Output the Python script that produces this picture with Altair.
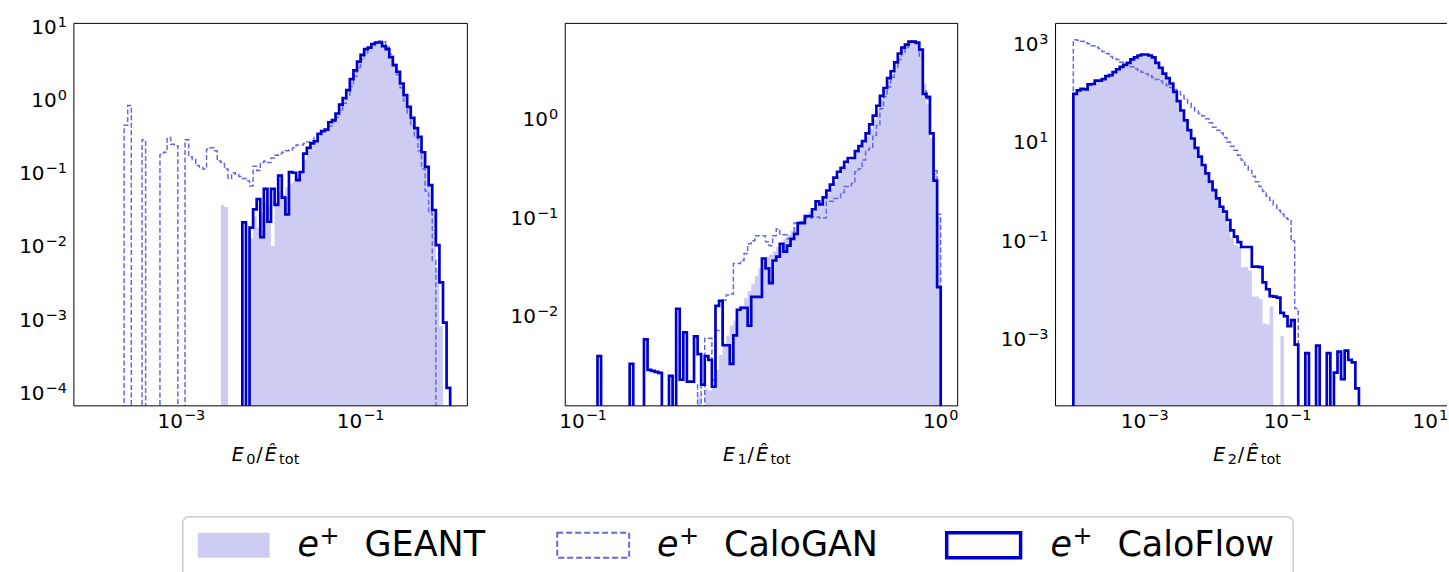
import altair as alt
import pandas as pd

N = None  # empty bin

# ---------------- data: log10 of normalised counts per bin ----------------
# Panel 1: E0/Etot, 100 log bins from 1e-4 to 1e0
p1_lo, p1_w = -4.0, 0.04
p1_geant = [N] * 30 + [
    N, N, N, N, N, N, -1.44, -1.47, N, N,
    N, N, N, N, -1.90, -1.60, -1.75, -1.55, -1.40, -1.45,
    -2.00, -1.40, -1.25, -1.30, -1.20, -1.15, -1.12, -1.05, -1.00, -0.82,
    -0.70, -0.63, -0.58, -0.50, -0.45, -0.41, -0.33, -0.29, -0.20, -0.09,
    0.00, 0.11, 0.25, 0.38, 0.50, 0.60, 0.68, 0.71, 0.76, 0.78,
    0.78, 0.74, 0.69, 0.59, 0.48, 0.38, 0.23, 0.07, -0.09, -0.24,
    -0.38, -0.50, -0.70, -0.90, -1.15, -1.55, -2.30, -3.10, N, N]
p1_calogan = [
    N, N, N, N, N, N, N, N, N, -0.35,
    -0.08, N, N, N, -0.55, N, N, N, N, -0.75,
    -0.72, -0.52, -0.61, -0.63, N, N, -0.55, -0.78, -0.82, -0.90,
    -0.93, -0.95, -0.68, -0.66, -0.70, -0.84, -0.86, -0.95, -1.08, -1.00,
    -1.02, -1.05, -1.08, -1.11, -1.18, -0.91, -0.97, -0.86, -0.84, -0.86,
    -0.80, -0.76, -0.74, -0.72, -0.70, -0.69, -0.66, -0.62, -0.62, -0.60,
    -0.58, -0.56, -0.52, -0.48, -0.44, -0.41, -0.36, -0.30, -0.24, -0.14,
    -0.05, 0.06, 0.18, 0.32, 0.44, 0.55, 0.64, 0.70, 0.74, 0.78,
    0.80, 0.79, 0.72, 0.62, 0.48, 0.34, 0.16, -0.02, -0.20, -0.36,
    -0.52, -0.70, -0.95, -1.25, -1.55, -2.20, N, N, N, N]
p1_caloflow = [N] * 40 + [
    N, N, -1.68, N, -1.75, -1.50, -1.36, -1.88, -1.22, -1.67,
    -1.22, -1.44, -1.04, -1.34, -1.57, -0.99, -1.00, -1.10, -0.99, -0.74,
    -0.66, -0.60, -0.57, -0.47, -0.43, -0.41, -0.31, -0.28, -0.19, -0.07,
    0.02, 0.13, 0.28, 0.40, 0.52, 0.61, 0.69, 0.71, 0.76, 0.78,
    0.78, 0.73, 0.69, 0.58, 0.47, 0.38, 0.22, 0.06, -0.10, -0.25,
    -0.39, -0.51, -0.72, -0.92, -1.17, -1.51, -1.99, -2.50, -3.05, -3.94]

# Panel 2: E1/Etot, 100 log bins from 1e-1 to 1e0
p2_lo, p2_w = -1.0, 0.01
p2_geant = [N] * 30 + [
    N, N, -2.82, N, -2.74, -2.76, -2.72, -2.55, -2.40, -2.28,
    -2.20, -2.10, -2.05, -1.95, -1.90, -1.82, -1.75, -1.68, -1.60, -1.52,
    -1.45, -1.40, -1.38, -1.35, -1.30, -1.27, -1.22, -1.18, -1.14, -1.10,
    -1.06, -1.02, -0.98, -0.95, -0.92, -0.88, -0.85, -0.80, -0.75, -0.70,
    -0.64, -0.58, -0.52, -0.47, -0.43, -0.40, -0.35, -0.30, -0.25, -0.18,
    -0.10, -0.01, 0.09, 0.19, 0.29, 0.38, 0.46, 0.55, 0.63, 0.70,
    0.74, 0.77, 0.78, 0.76, 0.70, 0.35, 0.15, -0.20, -0.55, -1.00]
p2_calogan = [N] * 30 + [
    N, N, -2.70, N, -2.23, -2.23, -2.65, -2.15, -2.15, -1.84,
    -1.79, -1.78, -1.47, -1.47, -1.44, -1.37, -1.27, -1.24, -1.19, -1.19,
    -1.19, -1.25, -1.29, -1.19, -1.12, -1.18, -1.18, -1.22, -1.22, -1.06,
    -1.05, -1.05, -1.01, -1.01, -1.00, -1.00, -1.01, -1.01, -0.84, -0.84,
    -0.81, -0.81, -0.75, -0.69, -0.69, -0.66, -0.54, -0.51, -0.42, -0.32,
    -0.30, -0.17, -0.07, 0.10, 0.22, 0.32, 0.42, 0.52, 0.60, 0.67,
    0.72, 0.78, 0.79, 0.76, 0.62, 0.28, 0.20, -0.15, -0.53, -0.97]
p2_caloflow = [
    N, N, N, N, -2.41, N, N, N, N, N,
    N, N, N, -2.49, N, N, N, -2.24, -2.55, -2.56,
    -2.57, -2.58, N, N, -2.61, N, -1.93, -2.65, -2.17, -2.67,
    -2.67, -2.21, -2.39, -2.70, -2.41, -2.45, -2.72, -1.90, -1.85, -2.30,
    -2.30, -2.49, -2.20, -1.94, -1.92, -1.92, -2.10, -1.81, -1.81, -1.81,
    -1.42, -1.52, -1.67, -1.44, -1.40, -1.27, -1.35, -1.29, -1.22, -1.17,
    -1.06, -1.06, -0.99, -0.99, -0.92, -0.84, -0.87, -0.80, -0.73, -0.67,
    -0.60, -0.54, -0.50, -0.44, -0.40, -0.40, -0.33, -0.28, -0.23, -0.15,
    -0.06, 0.03, 0.13, 0.23, 0.31, 0.41, 0.48, 0.57, 0.66, 0.72,
    0.75, 0.78, 0.78, 0.77, 0.70, 0.25, 0.22, -0.15, -0.63, -1.71]

# Panel 3: E2/Etot, 80 log bins from 1e-4 to 1e0
p3_lo, p3_w = -4.0, 0.05
p3_geant = [
    1.97, 2.04, 2.07, 2.07, 2.16, 2.18, 2.24, 2.25, 2.28, 2.33,
    2.36, 2.42, 2.47, 2.52, 2.57, 2.61, 2.67, 2.72, 2.76, 2.78,
    2.78, 2.76, 2.72, 2.62, 2.51, 2.40, 2.30, 2.19, 2.02, 1.83,
    1.63, 1.44, 1.24, 1.06, 0.87, 0.69, 0.52, 0.35, 0.18, 0.00,
    -0.18, -0.35, -0.48, -0.65, -0.95, -1.10, -1.14, -1.55, -1.55, -1.62,
    -2.15, -2.15, -2.20, -2.70, -2.72, -2.35, N, N, -2.96, N] + [N] * 20
p3_calogan = [
    3.08, 3.07, 3.05, 3.02, 3.00, 2.96, 2.93, 2.90, 2.84, 2.80,
    2.74, 2.70, 2.68, 2.62, 2.59, 2.56, 2.53, 2.49, 2.46, 2.42,
    2.39, 2.35, 2.31, 2.27, 2.24, 2.19, 2.15, 2.11, 2.07, 2.02,
    1.96, 1.88, 1.79, 1.70, 1.63, 1.58, 1.53, 1.47, 1.39, 1.30,
    1.24, 1.18, 1.09, 1.00, 0.91, 0.83, 0.73, 0.63, 0.53, 0.42,
    0.30, 0.19, 0.09, -0.01, -0.10, -0.19, -0.29, -0.39, -0.47, -0.55,
    -0.58, -1.02, -2.39, N, N, N, N, N, N, N] + [N] * 10
p3_caloflow = [
    1.98, 2.05, 2.08, 2.07, 2.17, 2.18, 2.25, 2.25, 2.28, 2.34,
    2.36, 2.42, 2.48, 2.53, 2.57, 2.61, 2.68, 2.72, 2.76, 2.78,
    2.78, 2.76, 2.72, 2.61, 2.51, 2.39, 2.30, 2.19, 2.02, 1.83,
    1.64, 1.44, 1.24, 1.07, 0.88, 0.70, 0.53, 0.36, 0.19, 0.02,
    -0.15, -0.32, -0.42, -0.59, -0.80, -0.93, -1.04, -1.14, -1.14, -1.14,
    -1.54, -1.54, -1.55, -1.86, -2.00, -2.14, -2.15, -2.17, -2.48, -2.55,
    -2.75, -2.63, -3.13, N, N, -3.30, N, N, -3.15, N,
    N, -3.30, N, -3.70, -3.27, -3.83, -3.25, -3.44, -3.49, -4.02]

# axis title pieces: E_i / Ê_tot
title_E, title_idx, title_slash, title_Ehat, title_sub = "E", ["0", "1", "2"], "/", "Ê", "tot"
legend_names = ["GEANT", "CaloGAN", "CaloFlow"]
legend_particle = "e"
legend_charge = "+"

# ---------------- styling ----------------
C_GEANT = "#cdcdf4"
C_GAN = "#6767e0"
C_FLOW = "#0000cd"
TINY = 1e-12
PANEL_H = 383
FS10, FSEX = 20, 14.5
FONT = "DejaVu Sans"


def edges(lo, w, n):
    return [10 ** (lo + w * k) for k in range(n + 1)]


def step_df(lo, w, vals):
    e = edges(lo, w, len(vals))
    ys = [TINY if v is None else 10 ** v for v in vals]
    xs = [e[0]] + e[:-1] + [e[-1], e[-1]]
    yy = [TINY] + ys + [ys[-1], TINY]
    return pd.DataFrame({"x": xs, "y": yy, "i": list(range(len(xs)))})


def area_df(lo, w, vals):
    e = edges(lo, w, len(vals))
    ys = [TINY if v is None else 10 ** v for v in vals]
    xs = e[:-1] + [e[-1]]
    yy = ys + [ys[-1]]
    return pd.DataFrame({"x": xs, "y": yy, "base": [TINY] * len(xs)})


def exp_str(e):
    return str(e).replace("-", "\u2212")


def text_w(s, fs):
    return sum((0.838 if c == "\u2212" else 0.636) for c in s) * fs


def log_axis(major, minor):
    vals = sorted([10.0 ** e for e in major] + list(minor))
    E = "round(log(datum.value)/LN10)"
    dec = f"abs(log(datum.value)/LN10-{E})<0.001"
    test = f"{dec}&&indexof({list(major)},{E})>=0"
    return alt.Axis(values=vals, labels=False, grid=False, domain=False,
                    tickSize={"condition": {"test": test, "value": 4.5}, "value": 2.5},
                    title=None)


def minors(e_from, e_to, lo, hi):
    out = []
    for e in range(e_from, e_to + 1):
        for m in range(2, 10):
            v = m * 10.0 ** e
            if lo < v < hi:
                out.append(v)
    return out


def tick_labels(exps, xs, ys, axis):
    layers = []
    for e in exps:
        s = exp_str(e)
        w10 = text_w("10", FS10)
        wex = text_w(s, FSEX)
        df = pd.DataFrame({"v": [10.0 ** e], "b": ["10"], "s": [s]})
        base = alt.Chart(df)
        if axis == "x":
            tot = w10 + 1 + wex
            pos = alt.X("v:Q", scale=xs, axis=None)
            layers.append(base.mark_text(align="left", baseline="alphabetic", fontSize=FS10,
                                         dx=-tot / 2, color="black").encode(
                x=pos, y=alt.value(PANEL_H + 22), text="b:N"))
            layers.append(base.mark_text(align="left", baseline="alphabetic", fontSize=FSEX,
                                         dx=-tot / 2 + w10 + 1, color="black").encode(
                x=pos, y=alt.value(PANEL_H + 14), text="s:N"))
        else:
            pos = alt.Y("v:Q", scale=ys, axis=None)
            layers.append(base.mark_text(align="right", baseline="alphabetic", fontSize=FSEX,
                                         dy=0.5, color="black").encode(
                x=alt.value(-7), y=pos, text="s:N"))
            layers.append(base.mark_text(align="right", baseline="alphabetic", fontSize=FS10,
                                         dx=-(wex + 1), dy=7.5, color="black").encode(
                x=alt.value(-7), y=pos, text="b:N"))
    return layers


def x_title(idx, center):
    df = pd.DataFrame({"E": [title_E], "i": [idx], "sl": [title_slash],
                       "Eh": [title_Ehat], "sub": [title_sub]})
    spec = [("E", 19, "italic", -39, 55.7), ("i", 14.5, "normal", -24.5, 58.5),
            ("sl", 19, "normal", -14.5, 55.7), ("Eh", 19, "italic", -6, 55.7),
            ("sub", 14.5, "normal", 8.5, 58.5)]
    out = []
    for field, fs, style, off, base in spec:
        out.append(alt.Chart(df).mark_text(align="left", baseline="alphabetic", fontSize=fs,
                                           fontStyle=style, color="black").encode(
            x=alt.value(center + off), y=alt.value(PANEL_H + base), text=f"{field}:N"))
    return out


def frame(width, right=True):
    r = []
    sides = [dict(x=alt.value(0), x2=alt.value(width), y=alt.value(0)),
             dict(x=alt.value(0), x2=alt.value(width), y=alt.value(PANEL_H)),
             dict(x=alt.value(0), y=alt.value(0), y2=alt.value(PANEL_H))]
    if right:
        sides.append(dict(x=alt.value(width), y=alt.value(0), y2=alt.value(PANEL_H)))
    for s in sides:
        r.append(alt.Chart(one_row).mark_rule(color="black", strokeWidth=1).encode(**s))
    return r


def panel(lo, w, geant, gan, flow, xdom, ydom, xmaj, xmin, ymaj, ymin, idx, width,
          center, extra=(), right=True):
    xs = alt.Scale(type="log", domain=xdom, nice=False)
    ys = alt.Scale(type="log", domain=ydom, nice=False)
    X = alt.X("x:Q", scale=xs, axis=log_axis(xmaj, xmin))
    Y = alt.Y("y:Q", scale=ys, axis=log_axis(ymaj, ymin), stack=None)
    fill = alt.Chart(area_df(lo, w, geant)).mark_area(
        interpolate="step-after", color=C_GEANT, clip=True, opacity=1
    ).encode(x=X, y=Y, y2="base:Q")
    gl = alt.Chart(step_df(lo, w, gan)).mark_line(
        interpolate="step-after", color=C_GAN, strokeWidth=1.5,
        strokeDash=[5, 2.5], clip=True
    ).encode(x=X, y=Y, order="i:Q")
    fl = alt.Chart(step_df(lo, w, flow)).mark_line(
        interpolate="step-after", color=C_FLOW, strokeWidth=2.7, clip=True
    ).encode(x=X, y=Y, order="i:Q")
    labs = tick_labels(xmaj, xs, ys, "x") + tick_labels(ymaj, xs, ys, "y")
    return alt.layer(fill, gl, fl, *frame(width, right), *labs, *x_title(idx, center),
                     *extra).properties(width=width, height=PANEL_H,
                                        view=alt.ViewBackground(stroke=None))


one_row = pd.DataFrame({"k": [0]})

# invisible anchor fixing the top-left corner of the page relative to panel 1
anchor = alt.Chart(one_row).mark_rect(opacity=0).encode(
    x=alt.value(-74), x2=alt.value(-73), y=alt.value(-23), y2=alt.value(-22))

# ---------------- legend (drawn in panel-2 coordinates, below the panels) ----------------
leg = pd.DataFrame({"name": legend_names, "p": [legend_particle] * 3, "q": [legend_charge] * 3})


def one(i):
    return alt.Chart(leg.iloc[[i]])


legend_layers = [
    one(0).mark_rect(fill="white", stroke="#cccccc", strokeWidth=1.5, cornerRadius=6).encode(
        x=alt.value(-383), x2=alt.value(729), y=alt.value(494), y2=alt.value(580)),
    one(0).mark_rect(fill=C_GEANT).encode(
        x=alt.value(-368), x2=alt.value(-296), y=alt.value(510), y2=alt.value(535)),
    one(1).mark_rect(fill="white", stroke=C_GAN, strokeWidth=2, strokeDash=[6, 3]).encode(
        x=alt.value(-8), x2=alt.value(64), y=alt.value(510), y2=alt.value(535)),
    one(2).mark_rect(fill="white", stroke=C_FLOW, strokeWidth=3.5).encode(
        x=alt.value(382), x2=alt.value(456), y=alt.value(510), y2=alt.value(535)),
]
for i, x0 in enumerate([-268, 92, 486]):
    legend_layers.append(one(i).mark_text(align="left", baseline="alphabetic", fontSize=35,
                                          fontStyle="italic", color="black").encode(
        x=alt.value(x0), y=alt.value(533), text="p:N"))
    legend_layers.append(one(i).mark_text(align="left", baseline="alphabetic", fontSize=24,
                                          color="black").encode(
        x=alt.value(x0 + 22), y=alt.value(521), text="q:N"))
    legend_layers.append(one(i).mark_text(align="left", baseline="alphabetic", fontSize=35,
                                          color="black").encode(
        x=alt.value(x0 + 67), y=alt.value(533), text="name:N"))

p1 = panel(p1_lo, p1_w, p1_geant, p1_calogan, p1_caloflow,
           [10 ** -4.2007, 10 ** 0.1918], [10 ** -4.187, 10 ** 1.0416],
           [-3, -1], [],
           [-4, -3, -2, -1, 0, 1], minors(-5, 1, 10 ** -4.187, 10 ** 1.0416),
           title_idx[0], 394, 197, extra=(anchor,))
p2 = panel(p2_lo, p2_w, p2_geant, p2_calogan, p2_caloflow,
           [10 ** -1.0503, 10 ** 0.0475], [10 ** -2.915, 10 ** 0.9656],
           [-1, 0], minors(-2, 0, 10 ** -1.0503, 10 ** 0.0475),
           [-2, -1, 0], minors(-3, 0, 10 ** -2.915, 10 ** 0.9656),
           title_idx[1], 393, 197, extra=legend_layers)
# panel 3 runs off the right edge of the figure: only 392 px of it are visible
p3 = panel(p3_lo, p3_w, p3_geant, p3_calogan, p3_caloflow,
           [10 ** -4.249, 10 ** 1.2335], [10 ** -4.375, 10 ** 3.414],
           [-3, -1, 1], [1e-4, 1e-2, 1.0],
           [-3, -1, 1, 3], [1e-4, 1e-2, 1.0, 1e2],
           title_idx[2], 392, 197, right=False)

chart = alt.hconcat(p1, p2, p3, spacing=98, bounds="flush").configure(
    padding={"left": 0, "top": 0, "right": 0, "bottom": 0},
    font=FONT,
).configure_axis(
    tickColor="black", tickWidth=1,
).configure_text(font=FONT)

chart.save("out.html", embed_options={"renderer": "svg", "actions": False})
